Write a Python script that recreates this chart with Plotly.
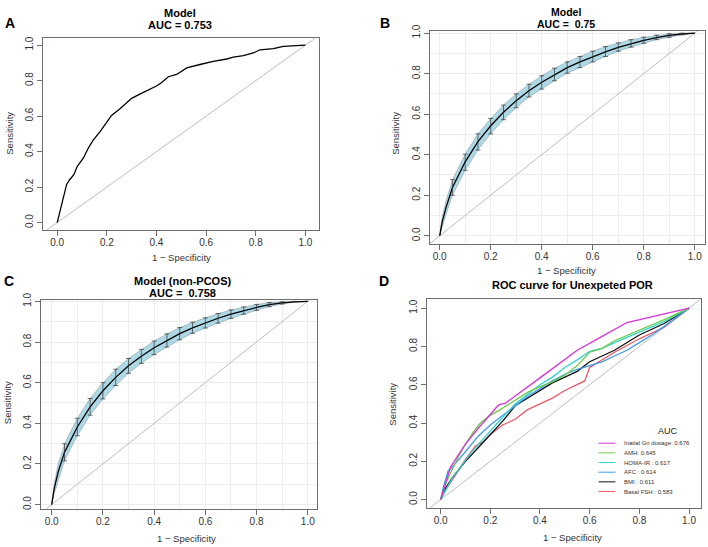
import plotly.graph_objects as go

W, H = 708, 547
FONT = "Liberation Sans, Arial, sans-serif"

tick_vals = [0, 0.2, 0.4, 0.6, 0.8, 1.0]
tick_text = ["0.0", "0.2", "0.4", "0.6", "0.8", "1.0"]
diag = [-0.2, 1.2]

# ---- Panel A: empirical ROC
a_fpr = [0, 0.008, 0.017, 0.027, 0.038, 0.051, 0.067, 0.081, 0.105, 0.125, 0.145, 0.172,
         0.199, 0.219, 0.253, 0.28, 0.3, 0.333, 0.374, 0.4, 0.421, 0.448, 0.481, 0.522,
         0.575, 0.629, 0.683, 0.71, 0.75, 0.79, 0.817, 0.871, 0.911, 0.952, 1.0]
a_tpr = [0, 0.048, 0.085, 0.16, 0.215, 0.243, 0.27, 0.317, 0.363, 0.419, 0.465, 0.511,
         0.567, 0.604, 0.641, 0.678, 0.7, 0.724, 0.752, 0.77, 0.789, 0.822, 0.835, 0.872,
         0.891, 0.909, 0.922, 0.933, 0.941, 0.956, 0.974, 0.98, 0.993, 0.998, 1.0]

# ---- Panel B: smoothed ROC with CI
b_fpr = [0, 0.01, 0.025, 0.05, 0.10, 0.15, 0.20, 0.25, 0.30, 0.35, 0.40, 0.45, 0.50,
         0.55, 0.60, 0.65, 0.70, 0.75, 0.80, 0.85, 0.90, 0.95, 1.0]
b_mid = [0, 0.07, 0.14, 0.238, 0.365, 0.465, 0.543, 0.61, 0.667, 0.716, 0.758, 0.796, 0.83,
         0.858, 0.885, 0.908, 0.93, 0.949, 0.965, 0.978, 0.989, 0.996, 1.0]
b_lo = [0, 0.045, 0.105, 0.2, 0.323, 0.423, 0.503, 0.573, 0.632, 0.685, 0.724, 0.765, 0.802,
        0.83, 0.858, 0.885, 0.911, 0.931, 0.95, 0.968, 0.98, 0.992, 1.0]
b_hi = [0, 0.095, 0.175, 0.277, 0.403, 0.503, 0.579, 0.645, 0.70, 0.748, 0.79, 0.827, 0.858,
        0.885, 0.911, 0.934, 0.952, 0.968, 0.98, 0.99, 0.997, 1.0, 1.0]

# ---- Panel C: smoothed ROC with CI (non-PCOS)
c_fpr = b_fpr
c_mid = [0, 0.08, 0.16, 0.257, 0.382, 0.481, 0.56, 0.626, 0.683, 0.73, 0.772, 0.808, 0.841,
         0.87, 0.894, 0.917, 0.937, 0.955, 0.97, 0.984, 0.993, 0.998, 1.0]
c_lo = [0, 0.055, 0.12, 0.215, 0.339, 0.44, 0.52, 0.586, 0.646, 0.695, 0.738, 0.775, 0.811,
        0.843, 0.869, 0.893, 0.916, 0.937, 0.956, 0.974, 0.987, 0.997, 1.0]
c_hi = [0, 0.105, 0.2, 0.299, 0.425, 0.522, 0.6, 0.666, 0.719, 0.764, 0.805, 0.84, 0.871,
        0.897, 0.919, 0.94, 0.958, 0.973, 0.985, 0.994, 0.998, 1.0, 1.0]
bar_fpr = [0.05, 0.10, 0.15, 0.20, 0.25, 0.30, 0.35, 0.40, 0.45, 0.50, 0.55, 0.60, 0.65,
           0.70, 0.75, 0.80, 0.85, 0.90, 0.95]

# ---- Panel D: multiple predictors
d_names = ["Inatial Gn dosage: 0.676", "AMH: 0.645", "HOMA-IR : 0.617",
           "AFC : 0.614", "BMI : 0.611", "Basal FSH : 0.583"]
d_colors = ["#D633D6", "#6CCB4A", "#33D1D1", "#3D9BEA", "#111111", "#EC5A66"]
d_fpr = [
    [0, 0.02, 0.04, 0.06, 0.1, 0.15, 0.19, 0.23, 0.24, 0.26, 0.4, 0.55, 0.65, 0.75, 1.0],
    [0, 0.02, 0.04, 0.07, 0.1, 0.13, 0.16, 0.2, 0.24, 0.3, 0.35, 0.4, 0.45, 0.5, 0.55, 0.6,
     0.65, 0.7, 0.8, 0.9, 1.0],
    [0, 0.02, 0.05, 0.08, 0.12, 0.16, 0.2, 0.25, 0.3, 0.35, 0.4, 0.45, 0.5, 0.55, 0.6, 0.65,
     0.7, 0.8, 0.9, 1.0],
    [0, 0.01, 0.03, 0.05, 0.1, 0.15, 0.2, 0.25, 0.3, 0.35, 0.4, 0.45, 0.5, 0.55, 0.6, 0.65,
     0.7, 0.75, 0.8, 0.85, 0.9, 0.95, 0.98, 1.0],
    [0, 0.02, 0.05, 0.1, 0.15, 0.2, 0.25, 0.3, 0.4, 0.45, 0.5, 0.55, 0.6, 0.65, 0.7, 0.8,
     0.9, 1.0],
    [0, 0.02, 0.05, 0.08, 0.1, 0.14, 0.17, 0.2, 0.25, 0.3, 0.35, 0.4, 0.45, 0.5, 0.55, 0.58,
     0.6, 0.65, 0.7, 0.8, 0.9, 1.0],
]
d_tpr = [
    [0, 0.09, 0.17, 0.21, 0.29, 0.37, 0.43, 0.49, 0.497, 0.503, 0.636, 0.78, 0.853, 0.925, 1.0],
    [0, 0.08, 0.14, 0.22, 0.29, 0.35, 0.4, 0.44, 0.47, 0.52, 0.56, 0.59, 0.615, 0.65, 0.7,
     0.77, 0.79, 0.83, 0.885, 0.94, 1.0],
    [0, 0.05, 0.12, 0.17, 0.24, 0.3, 0.36, 0.43, 0.5, 0.55, 0.6, 0.64, 0.69, 0.73, 0.775,
     0.79, 0.82, 0.875, 0.93, 1.0],
    [0, 0.06, 0.15, 0.175, 0.25, 0.33, 0.39, 0.44, 0.49, 0.54, 0.58, 0.62, 0.655, 0.68, 0.7,
     0.72, 0.75, 0.78, 0.82, 0.86, 0.905, 0.95, 0.98, 1.0],
    [0, 0.06, 0.12, 0.2, 0.27, 0.34, 0.41, 0.49, 0.57, 0.61, 0.64, 0.67, 0.72, 0.75, 0.78,
     0.86, 0.92, 1.0],
    [0, 0.05, 0.11, 0.17, 0.21, 0.28, 0.3, 0.34, 0.39, 0.42, 0.47, 0.5, 0.53, 0.57, 0.6, 0.62,
     0.69, 0.73, 0.77, 0.84, 0.9, 1.0],
]

# ---------------------------------------------------------------
def fx(p):
    return p / W

def fy(p):
    return 1 - p / H

# panel boxes in pixels: (left, right, top, bottom), axis ranges
panels = {
    "1": dict(box=(43.3, 319.3, 31.7, 226.0), xr=[-0.056, 1.056], yr=[-0.04, 1.039], grid=False),
    "2": dict(box=(430.0, 704.7, 24.5, 241.0), xr=[-0.038, 1.039], yr=[-0.043, 1.01], grid=True),
    "3": dict(box=(40.7, 316.7, 297.3, 509.3), xr=[-0.043, 1.035], yr=[-0.021, 1.007], grid=True),
    "4": dict(box=(426.7, 700.7, 296.7, 508.3), xr=[-0.056, 1.047], yr=[-0.043, 1.046], grid=False),
}

fig = go.Figure()

def ax(k):
    return ("x" if k == "1" else "x" + k), ("y" if k == "1" else "y" + k)

def add_diag(k):
    xa, ya = ax(k)
    fig.add_trace(go.Scatter(x=diag, y=diag, mode="lines", xaxis=xa, yaxis=ya,
                             line=dict(color="#BDBDBD", width=1), hoverinfo="skip"))

# Panel A
add_diag("1")
fig.add_trace(go.Scatter(x=a_fpr, y=a_tpr, mode="lines", xaxis="x", yaxis="y",
                         line=dict(color="#000000", width=1.3)))

# Panels B, C
def add_ci(k, fpr, mid, lo, hi):
    xa, ya = ax(k)
    add_diag(k)
    fig.add_trace(go.Scatter(x=list(fpr) + list(fpr)[::-1], y=list(hi) + list(lo)[::-1],
                             mode="lines", fill="toself", fillcolor="#ADD8E6",
                             line=dict(color="rgba(80,80,80,0.55)", width=0.5),
                             xaxis=xa, yaxis=ya))
    fig.add_trace(go.Scatter(x=fpr, y=mid, mode="lines", xaxis=xa, yaxis=ya,
                             line=dict(color="#000000", width=1.3)))
    bx, by, up, dn = [], [], [], []
    for f, m, l, h in zip(fpr, mid, lo, hi):
        if any(abs(f - b) < 1e-9 for b in bar_fpr):
            bx.append(f); by.append(m); up.append(h - m); dn.append(m - l)
    fig.add_trace(go.Scatter(x=bx, y=by, mode="markers", marker=dict(size=1, color="rgba(0,0,0,0)"),
                             error_y=dict(type="data", array=up, arrayminus=dn, symmetric=False,
                                          color="#333333", thickness=0.7, width=2.5),
                             xaxis=xa, yaxis=ya))

add_ci("2", b_fpr, b_mid, b_lo, b_hi)
add_ci("3", c_fpr, c_mid, c_lo, c_hi)

# Panel D
add_diag("4")
order = [5, 4, 3, 2, 1, 0]
for i in order:
    fig.add_trace(go.Scatter(x=d_fpr[i], y=d_tpr[i], mode="lines", xaxis="x4", yaxis="y4",
                             line=dict(color=d_colors[i], width=1.3), name=d_names[i]))

# axes
layout = dict(width=W, height=H, margin=dict(l=0, r=0, t=0, b=0),
              paper_bgcolor="white", plot_bgcolor="white", showlegend=False,
              font=dict(family=FONT, color="#333333"))
for k, p in panels.items():
    l, r, t, b = p["box"]
    xn = "xaxis" if k == "1" else "xaxis" + k
    yn = "yaxis" if k == "1" else "yaxis" + k
    xa, ya = ax(k)
    common = dict(showline=True, mirror=True, linecolor="#6E6E6E", linewidth=1,
                  ticks="outside", ticklen=5, tickwidth=1, tickcolor="#6E6E6E",
                  tickvals=tick_vals, ticktext=tick_text, zeroline=False,
                  tickfont=dict(size=10, color="#333333", family=FONT),
                  showgrid=False, fixedrange=True)
    layout[xn] = dict(common, domain=[fx(l), fx(r)], range=p["xr"], anchor=ya,
                      ticklabelstandoff=-2)
    layout[yn] = dict(common, domain=[fy(b), fy(t)], range=p["yr"], anchor=xa,
                      tickangle=-90)
    if p["grid"]:
        for nm in (xn, yn):
            layout[nm]["minor"] = dict(showgrid=True, gridcolor="#EDEDED", gridwidth=1,
                                       tickvals=[i / 10 for i in range(0, 11)], ticks="")
fig.update_layout(**layout)

# text annotations
ann = []
def text(x, y, s, size, bold=False, angle=0, color="#000000", xanchor="center"):
    ann.append(dict(x=fx(x), y=fy(y), xref="paper", yref="paper", text=("<b>%s</b>" % s) if bold else s,
                    showarrow=False, font=dict(size=size, color=color, family=FONT),
                    textangle=angle, xanchor=xanchor, yanchor="middle"))

# panel letters
text(9.5, 16.7, "A", 14, bold=True)
text(384.5, 16.3, "B", 14, bold=True)
text(9.0, 278.0, "C", 14, bold=True)
text(384.0, 278.0, "D", 14, bold=True)
# titles
text(179.7, 6.5, "Model", 11, bold=True)
text(179.7, 18.5, "AUC = 0.753", 11, bold=True)
text(566.0, 5.0, "Model", 10.5, bold=True)
text(566.0, 17.0, "AUC =  0.75", 10.5, bold=True)
text(182.0, 278.2, "Model (non-PCOS)", 11, bold=True)
text(182.7, 290.3, "AUC =  0.758", 11, bold=True)
text(572.0, 282.0, "ROC curve for Unexpeted POR", 11, bold=True)
# axis titles
for (x, y) in [(181, 254.5), (566, 267.5), (186.7, 539.3), (572, 538.3)]:
    text(x, y, "1 − Specificity", 9.5, color="#333333")
for (x, y) in [(9.3, 128.3), (394.7, 128.0), (8.3, 401.7), (392.3, 403.3)]:
    text(x, y, "Sensitivity", 9.5, angle=-90, color="#333333")

# legend of panel D
text(668.3, 430.0, "AUC", 9, color="#222222")
leg_y = [442.7, 452.5, 462.3, 472.1, 481.9, 491.7]
shapes = []
for i, yy in enumerate(leg_y):
    shapes.append(dict(type="line", xref="paper", yref="paper", x0=fx(598.5), x1=fx(615.5),
                       y0=fy(yy), y1=fy(yy), line=dict(color=d_colors[i], width=1)))
    text(621.5, yy, d_names[i], 6, color="#333333", xanchor="left")

fig.update_layout(annotations=ann, shapes=shapes)

fig.write_html("out.html", config={"displayModeBar": False},
               post_script="document.body.style.margin='0';document.body.style.overflow='hidden';")
